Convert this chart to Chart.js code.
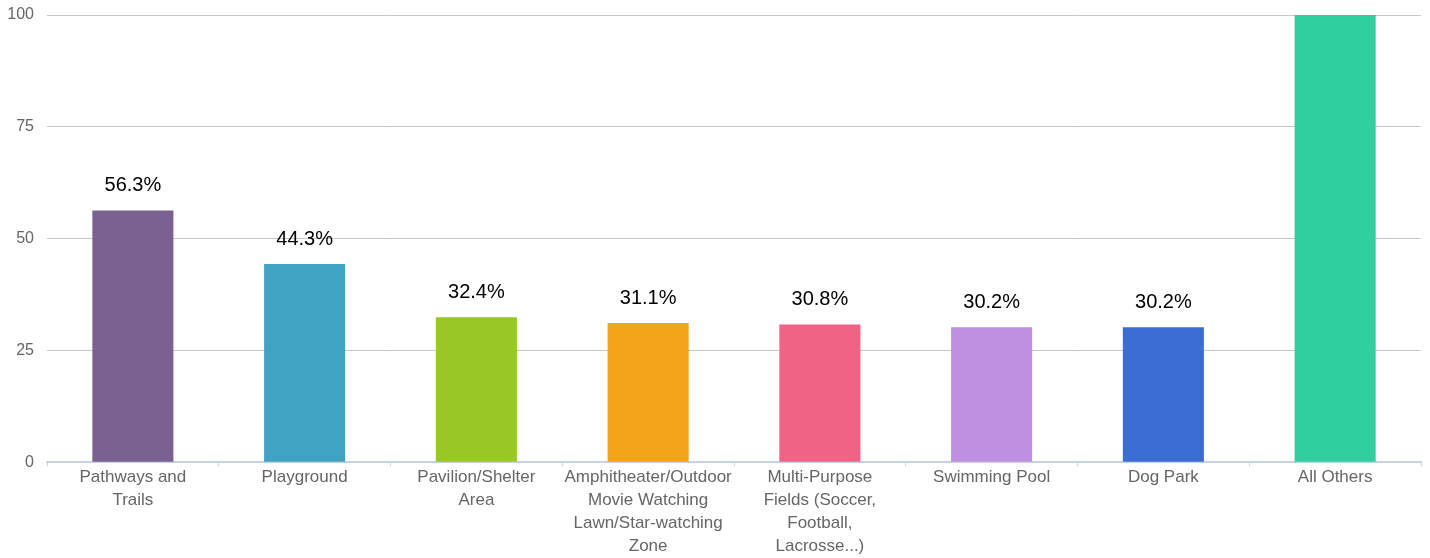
<!DOCTYPE html>
<html>
<head>
<meta charset="utf-8">
<script src="https://cdn.jsdelivr.net/npm/chart.js@4/dist/chart.umd.min.js"></script>
<style>
  html, body { margin: 0; padding: 0; background: #fff; }
  #wrap { width: 1430px; height: 558px; }
</style>
</head>
<body>
<div id="wrap"><canvas id="amenityChart"></canvas></div>
<script>
const categories = [
  ['Pathways and', 'Trails'],
  'Playground',
  ['Pavilion/Shelter', 'Area'],
  ['Amphitheater/Outdoor', 'Movie Watching', 'Lawn/Star-watching', 'Zone'],
  ['Multi-Purpose', 'Fields (Soccer,', 'Football,', 'Lacrosse...)'],
  'Swimming Pool',
  'Dog Park',
  'All Others'
];
const percents = [56.3, 44.3, 32.4, 31.1, 30.8, 30.2, 30.2, 100];
const barColors = ['#7b6092', '#40a3c4', '#97c825', '#f4a41b', '#ef6485', '#bd8fe0', '#3c6dd5', '#2fcf9f'];
const yTicks = [0, 25, 50, 75, 100];

// value labels above bars (skipped when the bar runs off the top)
const valueLabels = {
  id: 'valueLabels',
  afterDatasetsDraw(chart) {
    const ctx = chart.ctx;
    const meta = chart.getDatasetMeta(0);
    ctx.save();
    ctx.font = '20px "Liberation Sans", Arial, sans-serif';
    ctx.fillStyle = '#000';
    ctx.textAlign = 'center';
    ctx.textBaseline = 'middle';
    meta.data.forEach((bar, i) => {
      if (percents[i] >= 100) return;
      ctx.fillText(percents[i].toFixed(1) + '%', bar.x, bar.y - 25);
    });
    ctx.restore();
  }
};

const ctx = document.getElementById('amenityChart').getContext('2d');
new Chart(ctx, {
  type: 'bar',
  data: {
    labels: categories,
    datasets: [{
      data: percents,
      backgroundColor: barColors,
      categoryPercentage: 1,
      barPercentage: 0.472
    }]
  },
  options: {
    responsive: true,
    maintainAspectRatio: false,
    animation: false,
    layout: { padding: { top: 15, right: 9, left: 6, bottom: 0 } },
    plugins: {
      legend: { display: false },
      tooltip: { enabled: false }
    },
    scales: {
      x: {
        grid: {
          display: true,
          drawOnChartArea: false,
          drawTicks: true,
          tickLength: 4,
          color: '#c5d3e6',
          offset: true
        },
        border: { color: '#c5d3e6', width: 2 },
        ticks: {
          color: '#666',
          font: { family: '"Liberation Sans", Arial, sans-serif', size: 17, lineHeight: 1.35 },
          maxRotation: 0,
          autoSkip: false,
          padding: 0
        }
      },
      y: {
        min: 0,
        max: 100,
        afterBuildTicks: axis => { axis.ticks = yTicks.map(v => ({ value: v })); },
        afterFit: axis => { axis.width = 41; axis.paddingTop = 0; axis.paddingBottom = 0; },
        grid: { color: '#c8c8c8', drawTicks: false, lineWidth: 1 },
        border: { display: false },
        ticks: {
          color: '#666',
          font: { family: '"Liberation Sans", Arial, sans-serif', size: 16 },
          padding: 13
        }
      }
    }
  },
  plugins: [valueLabels]
});
</script>
</body>
</html>
